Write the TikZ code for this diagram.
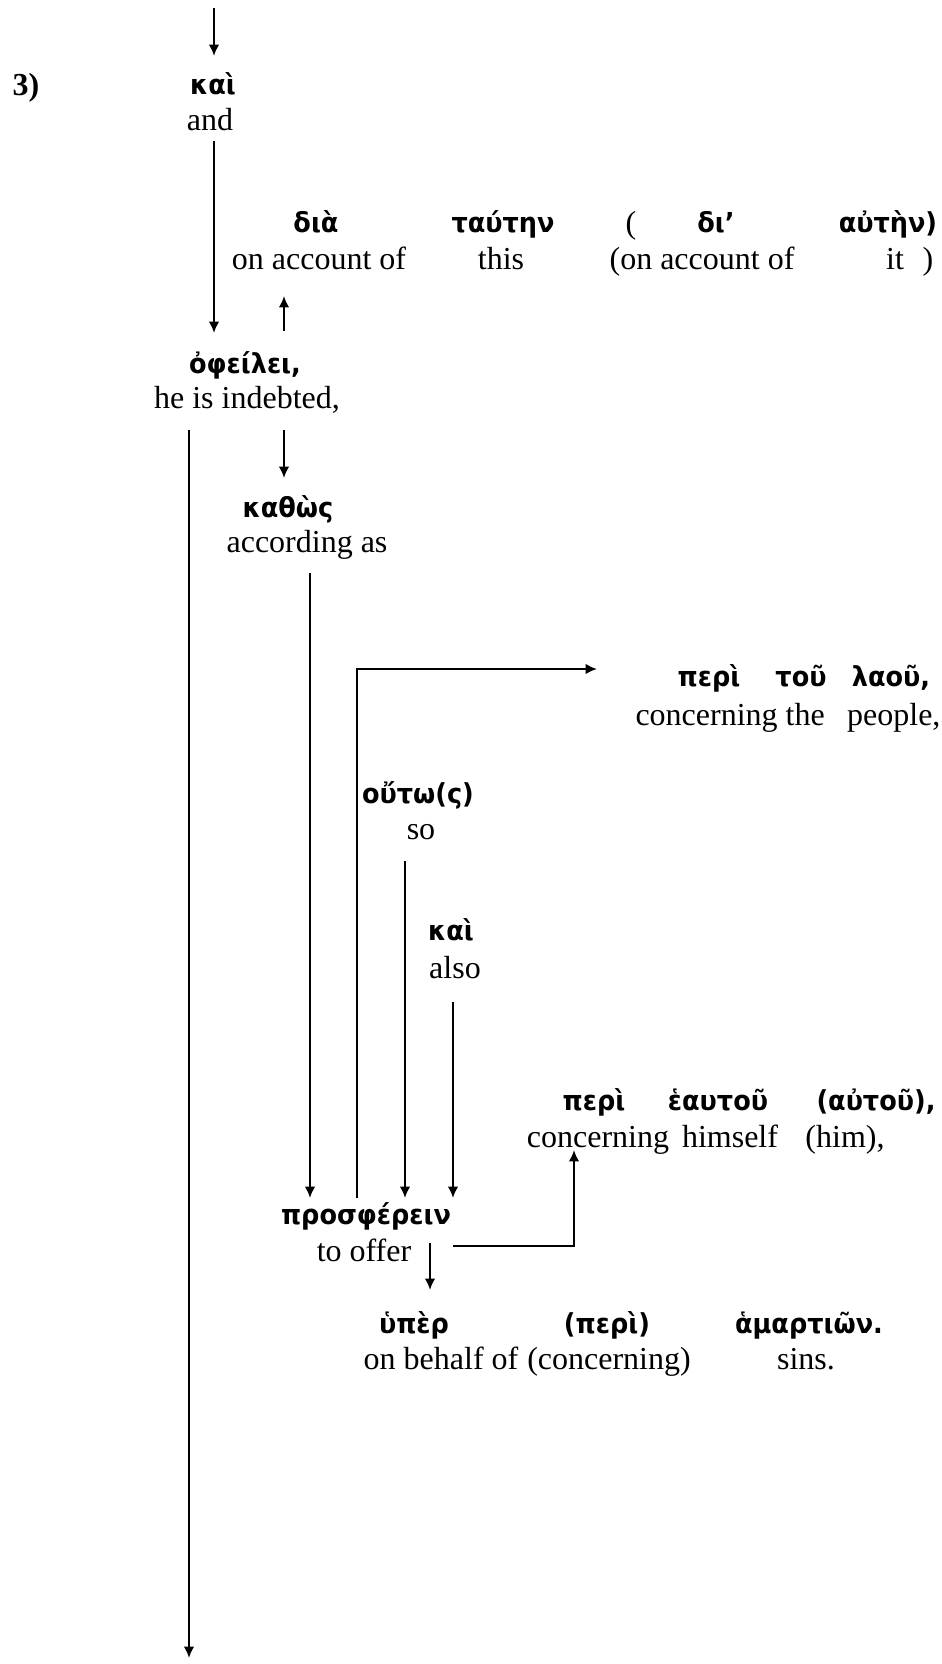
\documentclass[tikz,border=0pt]{standalone}
\usepackage{fontspec}
\setmainfont{Liberation Serif}
\newfontfamily\grk[FakeStretch=0.93]{DejaVu Sans}
\usetikzlibrary{arrows.meta}
\begin{document}
\begin{tikzpicture}[x=0.375pt,y=-0.375pt,
  gr/.style={inner sep=0pt, text height=7.5pt, text depth=2pt, font=\grk\bfseries\fontsize{10.3}{12}\selectfont},
  en/.style={inner sep=0pt, text height=8.5pt, text depth=2.5pt, font=\fontsize{12}{14}\selectfont},
  arr/.style={line width=0.8pt, -{Latex[length=4.3pt,width=4pt]}},
  ln/.style={line width=0.8pt}]
\useasboundingbox (0,0) rectangle (942,1664);

% label
\node[en, font=\bfseries\fontsize{12}{14}\selectfont] (num) at (26,87) {3)};

% kai / and
\node[gr] (kai1) at (213,87) {καὶ};
\node[en] (and) at (210,122) {and};

% dia tauten
\node[gr] (dia) at (316,225) {διὰ};
\node[gr] (tauten) at (503,225) {ταύτην};
\node[en] (lp) at (631,225) {(};
\node[gr] (di) at (716,225) {δι’};
\node[gr] (auten) at (888,225) {αὐτὴν)};
\node[en] (oao) at (319,261) {on account of};
\node[en] (this) at (501,261) {this};
\node[en] (oao2) at (702,261) {(on account of};
\node[en] (it) at (895,261) {it};
\node[en] (rp) at (928,261) {)};

% ofeilei
\node[gr] (ofeilei) at (245,366) {ὀφείλει,};
\node[en] (indebted) at (247,400) {he is indebted,};

% kathos
\node[gr] (kathos) at (288,510) {καθὼς};
\node[en] (accas) at (307,544) {according as};

% peri tou laou
\node[gr] (peri1) at (709,679) {περὶ};
\node[gr] (tou) at (801,679) {τοῦ};
\node[gr] (laou) at (891,679) {λαοῦ,};
\node[en] (ctp) at (788,717) {concerning the\hspace{0.7em}people,};

% houto
\node[gr] (houto) at (418,796) {οὔτω(ς)};
\node[en] (so) at (421,831) {so};

% kai also
\node[gr] (kai2) at (451,933) {καὶ};
\node[en] (also) at (455,970) {also};

% peri heautou
\node[gr] (peri2) at (594,1103) {περὶ};
\node[gr] (heautou) at (718,1103) {ἑαυτοῦ};
\node[gr] (autou) at (876,1103) {(αὐτοῦ),};
\node[en] (conc1) at (598,1139) {concerning};
\node[en] (himself) at (730,1139) {himself};
\node[en] (him) at (845,1139) {(him),};

% prospherein
\node[gr] (prosph) at (366,1217) {προσφέρειν};
\node[en] (tooffer) at (364,1253) {to offer};

% hyper
\node[gr] (hyper) at (414,1326) {ὑπὲρ};
\node[gr] (peri3) at (607,1326) {(περὶ)};
\node[gr] (hamartion) at (809,1326) {ἁμαρτιῶν.};
\node[en] (obo) at (441,1361) {on behalf of};
\node[en] (conc2) at (609,1361) {(concerning)};
\node[en] (sins) at (806,1361) {sins.};

% connector end points
\coordinate (topS) at (214,8);
\coordinate (topE) at (214,56);
\coordinate (andS) at (214,141);
\coordinate (ofeE) at (214,333);
\coordinate (upS) at (284,331);
\coordinate (upE) at (284,296);
\coordinate (longS) at (189,430);
\coordinate (longE) at (189,1658);
\coordinate (kaS) at (284,430);
\coordinate (kaE) at (284,478);
\coordinate (accS) at (310,573);
\coordinate (accE) at (310,1198);
\coordinate (elS) at (357,1198);
\coordinate (elC) at (357,669);
\coordinate (elE) at (597,669);
\coordinate (soS) at (405,861);
\coordinate (soE) at (405,1198);
\coordinate (alS) at (453,1002);
\coordinate (alE) at (453,1198);
\coordinate (toS) at (453,1246);
\coordinate (toC) at (574,1246);
\coordinate (toE) at (574,1150);
\coordinate (hyS) at (430,1243);
\coordinate (hyE) at (430,1290);

\draw[arr] (topS) -- (topE);
\draw[arr] (andS) -- (ofeE);
\draw[arr] (upS) -- (upE);
\draw[arr] (longS) -- (longE);
\draw[arr] (kaS) -- (kaE);
\draw[arr] (accS) -- (accE);
\draw[arr] (elS) -- (elC) -- (elE);
\draw[arr] (soS) -- (soE);
\draw[arr] (alS) -- (alE);
\draw[arr] (toS) -- (toC) -- (toE);
\draw[arr] (hyS) -- (hyE);
\end{tikzpicture}
\end{document}
